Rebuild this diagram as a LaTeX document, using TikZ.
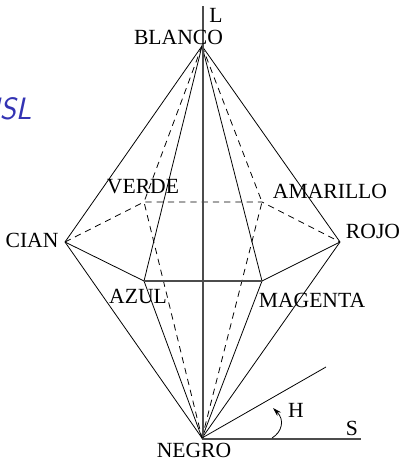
\documentclass[tikz,border=0pt]{standalone}
\usepackage{fontspec}
\setmainfont{Liberation Serif}
\usetikzlibrary{arrows.meta}
\definecolor{titleblue}{RGB}{51,51,179}
\begin{document}
\begin{tikzpicture}[
    x=0.02cm, y=-0.02cm,
    vlabel/.style={inner sep=0pt, font=\fontsize{12.3}{14}\selectfont},
    front/.style={draw=black, line width=0.45pt},
    back/.style={draw=black, line width=0.45pt, dash pattern=on 3.6pt off 2.8pt},
    axis/.style={draw=black!70, line width=0.6pt}
]
    \useasboundingbox (0,0) rectangle (401,460);
    % hexagon and apexes
    \coordinate (blanco) at (202,46);
    \coordinate (negro) at (202,438);
    \coordinate (cian) at (65,242);
    \coordinate (rojo) at (340,242);
    \coordinate (azul) at (144,281);
    \coordinate (magenta) at (262,281);
    \coordinate (verde) at (144,202);
    \coordinate (amarillo) at (262,202);
    \coordinate (ltop) at (203,6);
    \coordinate (lbot) at (203,438);
    \coordinate (send) at (361,439);
    \coordinate (sbase) at (202,439);
    \coordinate (hend) at (326,367);
    \coordinate (arcstart) at (272,438);
    \coordinate (arcend) at (273,408);

    % hidden edges
    \draw[back] (cian) -- (verde) -- (amarillo) -- (rojo);
    \draw[back] (blanco) -- (verde) -- (negro);
    \draw[back] (blanco) -- (amarillo) -- (negro);

    % visible edges
    \draw[front] (blanco) -- (cian) -- (negro) -- (rojo) -- cycle;
    \draw[front] (blanco) -- (azul) -- (negro) -- (magenta) -- cycle;
    \draw[front] (cian) -- (azul);
    \draw[front] (magenta) -- (rojo);
    \draw[axis] (azul) -- (magenta);

    % axes
    \draw[axis] (ltop) -- (lbot);
    \draw[axis] (sbase) -- (send);
    \draw[front] (negro) -- (hend);
    \draw[front, -{Stealth[length=5pt,width=3pt]}] (arcstart) .. controls (282,432) and (285,420) .. (arcend);

    % labels
    \node[vlabel] (lblanco) at (178.5,37.5) {BLANCO};
    \node[vlabel] (lnegro) at (194,450) {NEGRO};
    \node[vlabel] (lcian) at (32,240) {CIAN};
    \node[vlabel] (lrojo) at (373,231) {ROJO};
    \node[vlabel] (lverde) at (143,187) {VERDE};
    \node[vlabel] (lamarillo) at (330,191) {AMARILLO};
    \node[vlabel] (lazul) at (138,296) {AZUL};
    \node[vlabel] (lmagenta) at (312,300) {MAGENTA};
    \node[vlabel] (ll) at (216,15) {L};
    \node[vlabel] (ls) at (352,428) {S};
    \node[vlabel] (lh) at (296,410) {H};
    \node[inner sep=0pt, anchor=west, text=titleblue, font=\fontsize{17.6}{20}\sffamily\itshape\selectfont] (title) at (-21,109) {HSL};
\end{tikzpicture}
\end{document}
